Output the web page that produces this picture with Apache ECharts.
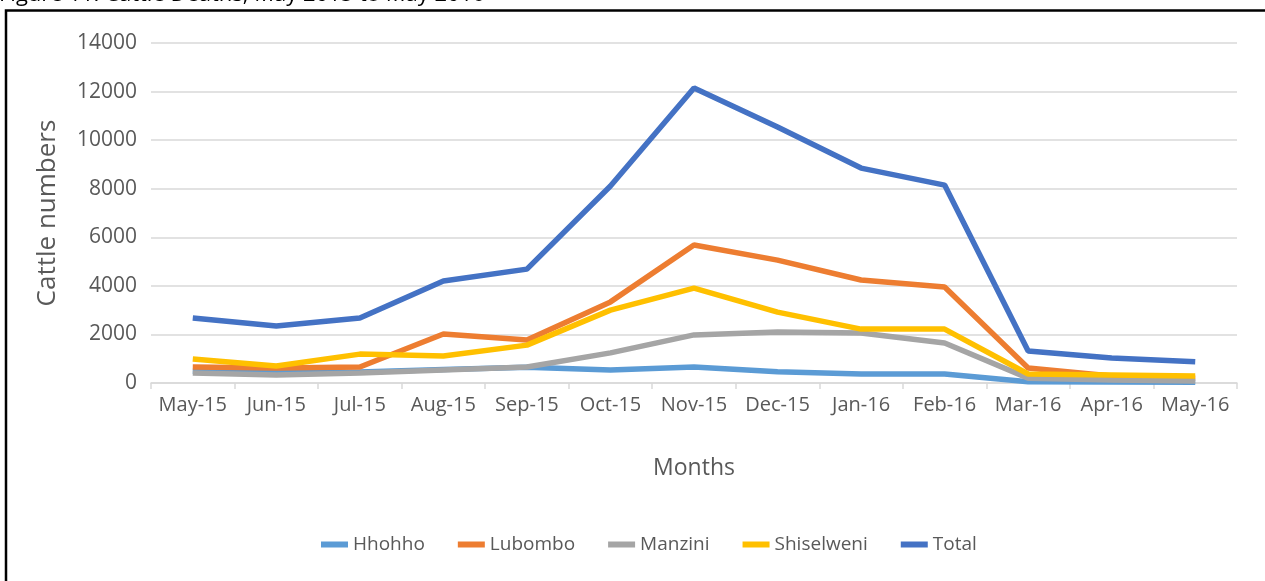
<!DOCTYPE html>
<html>
<head>
<meta charset="utf-8">
<script src="https://cdn.jsdelivr.net/npm/echarts@6/dist/echarts.min.js"></script>
<style>
  html, body { margin: 0; padding: 0; background: #fff; }
  #chart { width: 1265px; height: 581px; }
</style>
</head>
<body>
<div id="chart"></div>
<script>
var months = ['May-15', 'Jun-15', 'Jul-15', 'Aug-15', 'Sep-15', 'Oct-15', 'Nov-15',
  'Dec-15', 'Jan-16', 'Feb-16', 'Mar-16', 'Apr-16', 'May-16']

var hhohho = [480, 420, 450, 560, 650, 540, 660, 460, 370, 370, 50, 40, 30]
var lubombo = [660, 620, 660, 2020, 1770, 3340, 5680, 5060, 4240, 3950, 620, 290, 200]
var manzini = [410, 330, 410, 540, 660, 1240, 1980, 2100, 2060, 1650, 200, 120, 80]
var shiselweni = [990, 700, 1190, 1110, 1560, 3000, 3910, 2920, 2220, 2220, 370, 330, 290]
var total = [2680, 2350, 2680, 4200, 4690, 8110, 12150, 10540, 8850, 8150, 1320, 1030, 880]

var seriesNames = ['Hhohho', 'Lubombo', 'Manzini', 'Shiselweni', 'Total']
var seriesData = [hhohho, lubombo, manzini, shiselweni, total]
var colors = ['#5b9bd5', '#ed7d31', '#a5a5a5', '#ffc000', '#4472c4']

var font = '"Open Sans", "Noto Sans", sans-serif'
var grey = '#595959'

var chart = echarts.init(document.getElementById('chart'))

chart.setOption({
  animation: false,
  color: colors,
  textStyle: { fontFamily: font },
  graphic: [
    {
      type: 'text',
      left: -1,
      top: -16,
      style: {
        text: 'Figure 11: Cattle Deaths, May 2015 to May 2016',
        font: '22px ' + font,
        fill: '#000'
      }
    },
    {
      type: 'rect',
      shape: { x: 6, y: 10.5, width: 1300, height: 700 },
      style: { fill: 'none', stroke: '#000', lineWidth: 2.5 }
    }
  ],
  legend: {
    left: 316,
    top: 530,
    icon: 'rect',
    itemWidth: 27,
    itemHeight: 6,
    itemGap: 33,
    textStyle: { color: grey, fontSize: 19, fontFamily: font },
    data: seriesNames
  },
  grid: { left: 151, right: 28, top: 43, bottom: 198 },
  xAxis: {
    type: 'category',
    data: months,
    boundaryGap: true,
    name: 'Months',
    nameLocation: 'middle',
    nameGap: 74,
    nameTextStyle: { color: grey, fontSize: 23 },
    axisLine: { lineStyle: { color: '#d9d9d9', width: 1.5 } },
    axisTick: { show: true, length: 6, lineStyle: { color: '#d9d9d9', width: 1.5 } },
    axisLabel: { color: grey, fontSize: 20, margin: 12, interval: 0, hideOverlap: false }
  },
  yAxis: {
    type: 'value',
    min: 0,
    max: 14000,
    interval: 2000,
    name: 'Cattle numbers',
    nameLocation: 'middle',
    nameGap: 90,
    nameTextStyle: { color: grey, fontSize: 26 },
    axisLine: { show: false },
    axisTick: { show: false },
    axisLabel: {
      color: grey,
      fontSize: 21,
      margin: 14,
      formatter: function (v) { return String(v) }
    },
    splitLine: { lineStyle: { color: '#d9d9d9', width: 1.5 } }
  },
  series: seriesNames.map(function (name, i) {
    return {
      name: name,
      type: 'line',
      data: seriesData[i],
      showSymbol: false,
      symbol: 'none',
      lineStyle: { width: 5.5, color: colors[i] },
      itemStyle: { color: colors[i] }
    }
  })
})
</script>
</body>
</html>
